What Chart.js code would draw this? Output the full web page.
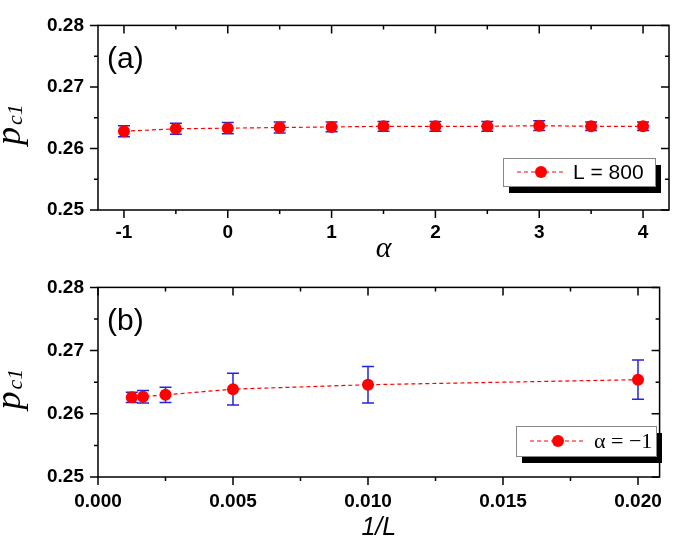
<!DOCTYPE html>
<html>
<head>
<meta charset="utf-8">
<script src="https://cdn.jsdelivr.net/npm/chart.js@4/dist/chart.umd.min.js"></script>
<style>
  body { margin: 0; background: #fff; }
  #wrap { position: relative; width: 675px; height: 536px; }
  canvas { position: absolute; left: 0; }
</style>
</head>
<body>
<div id="wrap">
  <canvas id="chartA" width="675" height="262" style="top:0"></canvas>
  <canvas id="chartB" width="675" height="274" style="top:262px"></canvas>
</div>
<script>
// panel (a): p_c1 vs alpha, L = 800
const alphaVals = [-1, -0.5, 0, 0.5, 1, 1.5, 2, 2.5, 3, 3.5, 4];
const pcA = [0.2628, 0.2632, 0.2633, 0.2634, 0.2635, 0.2636, 0.2636, 0.2636, 0.2637, 0.2636, 0.2636];
const errA = [0.0009, 0.0009, 0.0009, 0.0009, 0.0008, 0.0008, 0.0008, 0.0008, 0.0008, 0.0007, 0.0007];

// panel (b): p_c1 vs 1/L, alpha = -1
const invL = [0.00125, 0.001667, 0.0025, 0.005, 0.01, 0.02];
const pcB = [0.2626, 0.2627, 0.2630, 0.2639, 0.2646, 0.2654];
const errB = [0.0008, 0.0010, 0.0012, 0.0025, 0.0029, 0.0031];

// tick lists
const yTicks = [0.25, 0.255, 0.26, 0.265, 0.27, 0.275, 0.28];
const xTicksA = [-1, -0.5, 0, 0.5, 1, 1.5, 2, 2.5, 3, 3.5, 4];
const xTicksB = [0, 0.0025, 0.005, 0.0075, 0.01, 0.0125, 0.015, 0.0175, 0.02];

function isMult(v, step) {
    const r = v / step;
    return Math.abs(r - Math.round(r)) < 1e-6;
}

// error bars, frame, inner ticks, legend, y title
const panelPlugin = {
    id: 'panel',
    beforeDatasetsDraw(chart, args, opts) {
        const ctx = chart.ctx;
        const ys = chart.scales.y;
        const meta = chart.getDatasetMeta(0);
        const ds = chart.data.datasets[0];
        ctx.save();
        ctx.strokeStyle = '#2424e0';
        ctx.lineWidth = 1.5;
        meta.data.forEach((pt, i) => {
            const v = ds.data[i].y, e = opts.err[i];
            const y1 = ys.getPixelForValue(v - e), y2 = ys.getPixelForValue(v + e);
            const w = opts.cap;
            ctx.beginPath();
            ctx.moveTo(pt.x, y1); ctx.lineTo(pt.x, y2);
            ctx.moveTo(pt.x - w, y1); ctx.lineTo(pt.x + w, y1);
            ctx.moveTo(pt.x - w, y2); ctx.lineTo(pt.x + w, y2);
            ctx.stroke();
        });
        ctx.restore();
    },
    afterDraw(chart, args, opts) {
        const ctx = chart.ctx;
        const a = chart.chartArea;
        const xs = chart.scales.x, ys = chart.scales.y;
        ctx.save();
        ctx.strokeStyle = '#000';
        ctx.lineWidth = 1.5;
        ctx.strokeRect(a.left, a.top, a.right - a.left, a.bottom - a.top);
        ctx.beginPath();
        opts.xTicks.forEach(v => {
            const x = xs.getPixelForValue(v);
            const len = isMult(v, opts.xMajor) ? 8 : 4;
            ctx.moveTo(x, a.bottom); ctx.lineTo(x, a.bottom + len);
            ctx.moveTo(x, a.top); ctx.lineTo(x, a.top + len);
        });
        yTicks.forEach(v => {
            const y = ys.getPixelForValue(v);
            const len = isMult(v, 0.01) ? 8 : 4;
            ctx.moveTo(a.left, y); ctx.lineTo(a.left - len, y);
            ctx.moveTo(a.right, y); ctx.lineTo(a.right - len, y);
        });
        ctx.stroke();

        // panel letter
        ctx.fillStyle = '#000';
        ctx.font = '30px "Liberation Sans", Arial, sans-serif';
        ctx.textBaseline = 'middle';
        ctx.textAlign = 'left';
        ctx.fillText(opts.letter, a.left + 9, a.top + 34);

        // legend with shadow
        const lg = opts.legend;
        ctx.fillStyle = '#000';
        ctx.fillRect(lg.x + 6, lg.y + 7, lg.w, lg.h);
        ctx.fillStyle = '#fff';
        ctx.fillRect(lg.x, lg.y, lg.w, lg.h);
        ctx.strokeStyle = '#888';
        ctx.lineWidth = 1;
        ctx.strokeRect(lg.x + 0.5, lg.y + 0.5, lg.w, lg.h);
        const cy = lg.y + lg.h / 2;
        ctx.strokeStyle = '#ff0000';
        ctx.setLineDash([4, 3]);
        ctx.beginPath();
        ctx.moveTo(lg.x + 14, cy); ctx.lineTo(lg.x + 14 + lg.line, cy);
        ctx.stroke();
        ctx.setLineDash([]);
        ctx.fillStyle = '#ff0000';
        ctx.beginPath();
        ctx.arc(lg.x + 14 + lg.line / 2, cy, 6, 0, Math.PI * 2);
        ctx.fill();
        ctx.fillStyle = '#000';
        ctx.font = lg.font;
        ctx.textAlign = 'left';
        ctx.textBaseline = 'middle';
        ctx.fillText(chart.data.datasets[0].label, lg.x + lg.line + 22, cy + 1);

        // y title p_c1
        ctx.translate(20, (a.top + a.bottom) / 2 + 7);
        ctx.rotate(-Math.PI / 2);
        ctx.textBaseline = 'alphabetic';
        ctx.font = 'italic 36px "Liberation Serif", "Times New Roman", serif';
        const wp = ctx.measureText('p').width;
        ctx.font = 'italic 22px "Liberation Serif", "Times New Roman", serif';
        const ws = ctx.measureText('c1').width;
        const x0 = -(wp + ws + 2) / 2;
        ctx.font = 'italic 36px "Liberation Serif", "Times New Roman", serif';
        ctx.fillText('p', x0, 0);
        ctx.font = 'italic 22px "Liberation Serif", "Times New Roman", serif';
        ctx.fillText('c1', x0 + wp + 2, 2);
        ctx.restore();
    }
};

const tickFont = { family: '"Liberation Sans", Arial, sans-serif', size: 19, weight: 'bold' };

function makeChart(id, xs, ys, opts) {
    return new Chart(document.getElementById(id), {
        type: 'scatter',
        data: {
            datasets: [{
                label: opts.label,
                data: xs.map((x, i) => ({ x: x, y: ys[i] })),
                showLine: true,
                borderColor: '#ff0000',
                borderWidth: 1.2,
                borderDash: [4, 3],
                pointRadius: 6,
                pointBackgroundColor: '#ff0000',
                pointBorderColor: '#ff0000',
                pointBorderWidth: 0
            }]
        },
        options: {
            responsive: false,
            devicePixelRatio: 1,
            animation: false,
            layout: { padding: { left: 0, right: 2, top: opts.top, bottom: 0 } },
            plugins: {
                legend: { display: false },
                tooltip: { enabled: false },
                panel: {
                    err: opts.err, cap: opts.cap, letter: opts.letter,
                    xTicks: opts.xTicks, xMajor: opts.xMajor, legend: opts.legend
                }
            },
            scales: {
                x: {
                    type: 'linear',
                    min: opts.xMin, max: opts.xMax,
                    afterBuildTicks: s => { s.ticks = opts.xTicks.map(v => ({ value: v })); },
                    afterFit: s => { s.height = opts.xH; },
                    grid: { display: true, drawOnChartArea: false, drawTicks: false, color: 'transparent' },
                    border: { display: false },
                    ticks: {
                        autoSkip: false, maxRotation: 0, padding: opts.xPad,
                        color: '#000', font: tickFont,
                        callback: v => isMult(v, opts.xMajor) ? opts.fmt(v) : ''
                    },
                    title: {
                        display: true, text: opts.xTitle, color: '#000',
                        font: opts.xTitleFont, padding: { top: 0, bottom: opts.xTitlePad }
                    }
                },
                y: {
                    min: 0.25, max: 0.28,
                    afterBuildTicks: s => { s.ticks = yTicks.map(v => ({ value: v })); },
                    afterFit: s => { s.width = 98; },
                    grid: { display: true, drawOnChartArea: false, drawTicks: false, color: 'transparent' },
                    border: { display: false },
                    ticks: {
                        autoSkip: false, padding: 14, color: '#000', font: tickFont,
                        callback: v => isMult(v, 0.01) ? v.toFixed(2) : ''
                    }
                }
            }
        },
        plugins: [panelPlugin]
    });
}

makeChart('chartA', alphaVals, pcA, {
    label: 'L = 800', err: errA, cap: 6, letter: '(a)',
    top: 8, xH: 52, xMin: -1.25, xMax: 4.25, xTicks: xTicksA, xMajor: 1,
    fmt: v => String(v), xPad: 11,
    xTitle: '\u03b1',
    xTitleFont: { family: '"Liberation Serif", "Times New Roman", serif', size: 30, style: 'italic', lineHeight: 1 },
    xTitlePad: -2,
    legend: { x: 503, y: 158, w: 152, h: 28, line: 48, font: '21px "Liberation Sans", Arial, sans-serif' }
});

makeChart('chartB', invL, pcB, {
    label: '\u03b1 = \u22121', err: errB, cap: 6, letter: '(b)',
    top: 15, xH: 59, xMin: 0, xMax: 0.0208, xTicks: xTicksB, xMajor: 0.005,
    fmt: v => v.toFixed(3), xPad: 13,
    xTitle: '1/L',
    xTitleFont: { family: '"Liberation Sans", Arial, sans-serif', size: 25, style: 'italic', lineHeight: 1 },
    xTitlePad: -5,
    legend: { x: 516, y: 164, w: 140, h: 30, line: 56, font: '22px "Liberation Serif", "Times New Roman", serif' }
});
</script>
</body>
</html>
